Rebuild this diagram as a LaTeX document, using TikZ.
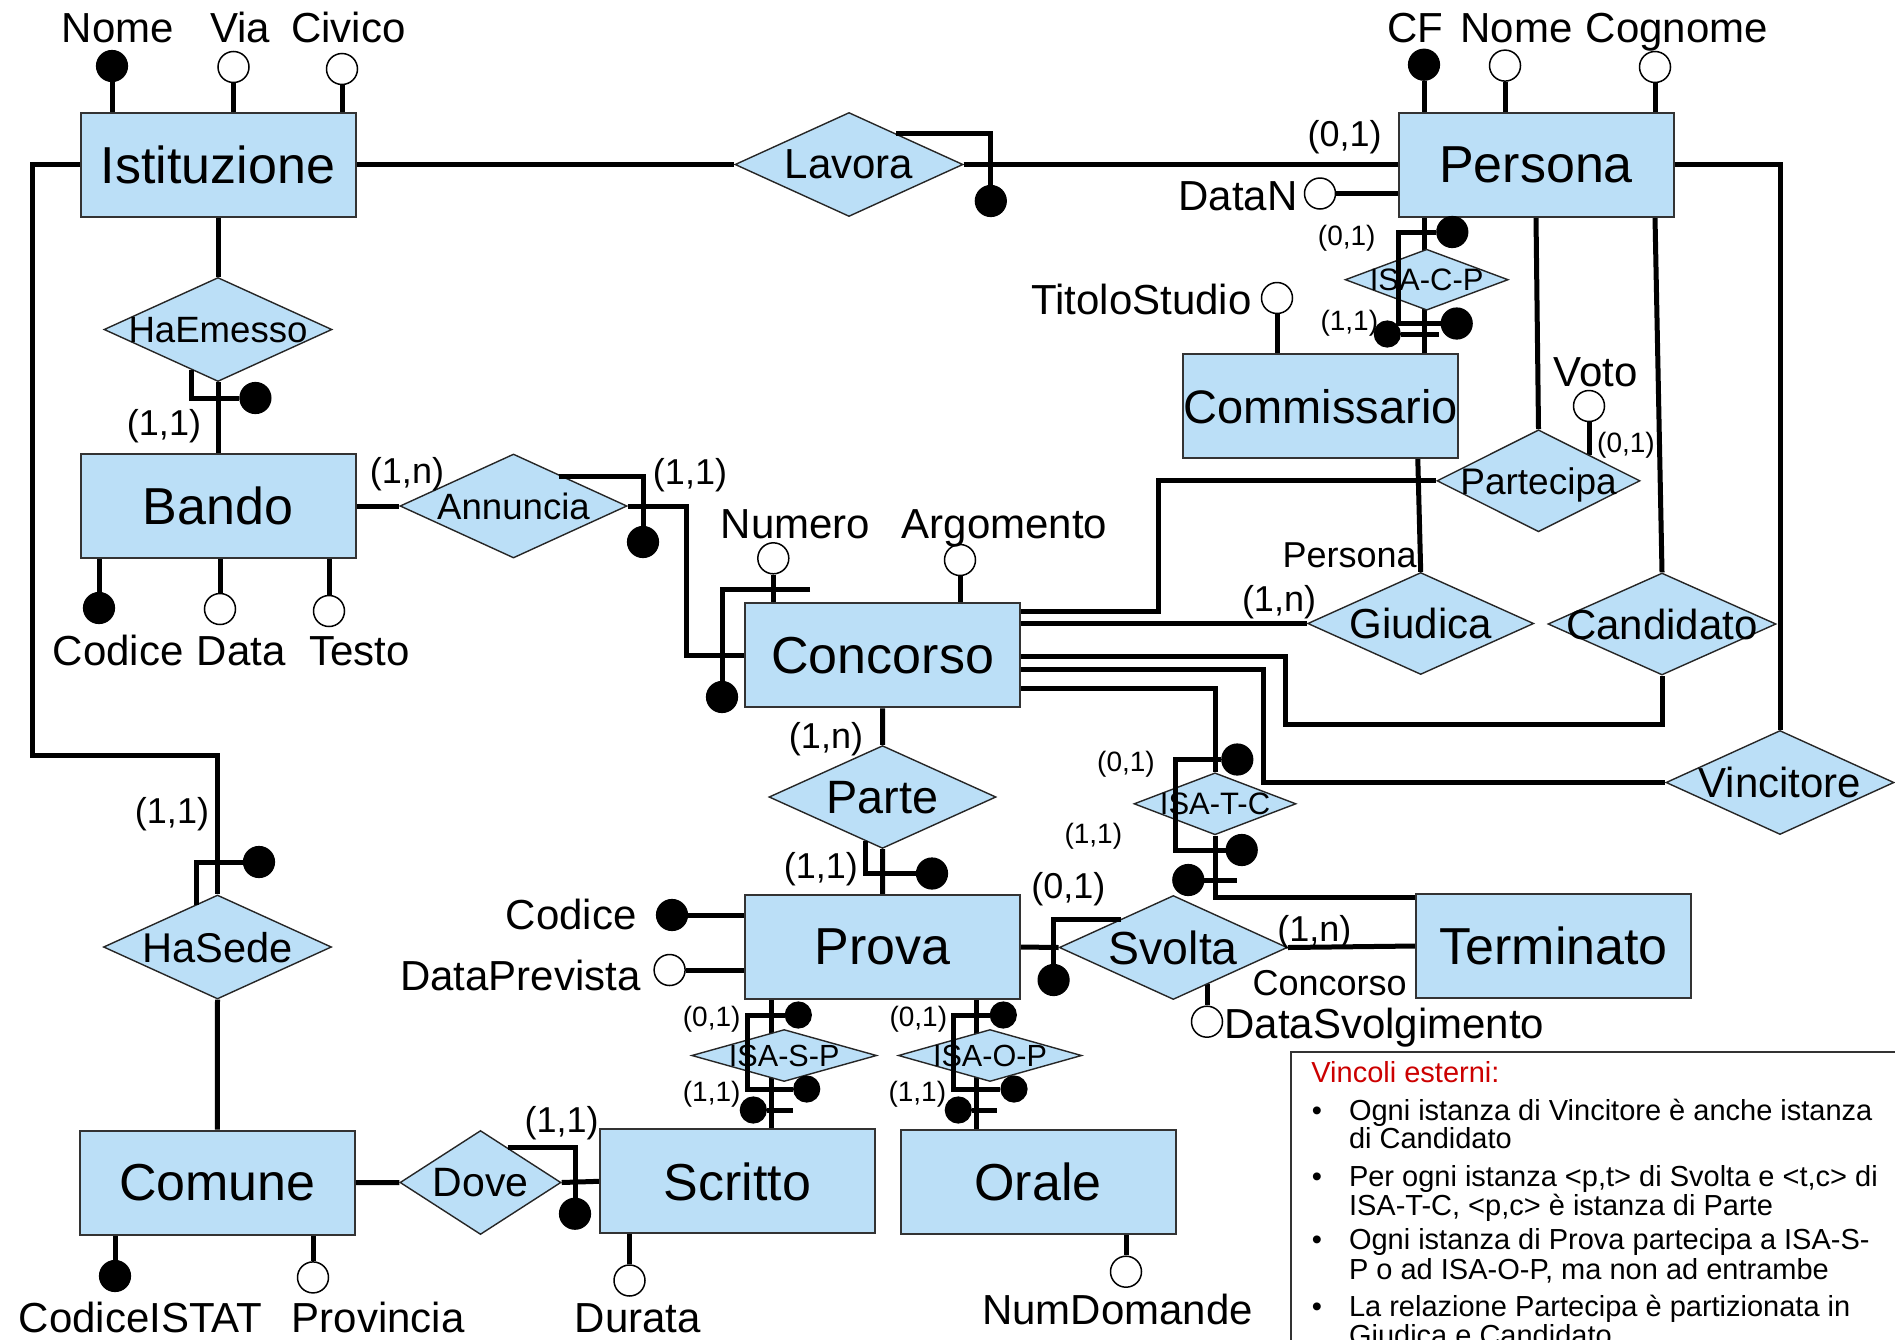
\documentclass[tikz,border=0pt]{standalone}
\usepackage{fontspec}
\setmainfont{Liberation Sans}
\usetikzlibrary{shapes.geometric}
\pgfdeclarelayer{back}
\pgfdeclarelayer{bg}
\pgfsetlayers{back,bg,main}
\definecolor{erfill}{RGB}{187,223,247}
\definecolor{vred}{RGB}{204,0,0}
\newcommand\myfs[1]{\fontsize{#1}{#1}\selectfont}
\begin{document}
\begin{tikzpicture}[x=0.5pt,y=-0.5pt,
  ent/.style={rectangle, draw=black!80, line width=1pt, fill=erfill, inner sep=0pt, minimum width=137.5pt, minimum height=52pt, font=\myfs{26}, text depth=0pt},
  rel/.style={diamond, draw=black!85, line width=0.7pt, fill=erfill, inner sep=0pt, text depth=0pt},
  conn/.style={line width=2.5pt},
  kf/.style={circle, fill=black, draw=black, line width=0.6pt, minimum size=15.5pt, inner sep=0pt},
  ko/.style={circle, fill=white, draw=black, line width=0.75pt, minimum size=15.5pt, inner sep=0pt},
  ksm/.style={minimum size=13pt},
  lab/.style={font=\myfs{21}, inner sep=0pt, anchor=base},
  card/.style={font=\myfs{18}, inner sep=0pt, anchor=base},
  cards/.style={font=\myfs{14}, inner sep=0pt, anchor=base},
  vinc/.style={font=\myfs{14.5}, inner sep=0pt, anchor=base west},
  bul/.style={font=\myfs{14.5}, inner sep=0pt, anchor=base}
]
\begin{pgfonlayer}{back}
\fill[white] (0,0) rectangle (1895,1339);
\end{pgfonlayer}
\useasboundingbox (0,0) rectangle (1895,1339);

% ---------------- entities
\node[ent] (Istituzione) at (218,164.5) {Istituzione};
\node[ent] (Bando) at (218,506) {Bando};
\node[ent] (Persona) at (1536,164.5) {Persona};
\node[ent, font=\myfs{23.5}] (Commissario) at (1320.5,406) {\makebox[0pt]{Commissario}};
\node[ent] (Concorso) at (882.7,655.3) {Concorso};
\node[ent] (Prova) at (882.6,947) {Prova};
\node[ent] (Terminato) at (1553.7,946) {Terminato};
\node[ent] (Comune) at (217.3,1182.6) {Comune};
\node[ent] (Scritto) at (737.5,1181.3) {Scritto};
\node[ent] (Orale) at (1038,1181.5) {Orale};

% ---------------- relationships
\node[rel, minimum width=114pt, minimum height=52pt, font=\myfs{21}] (Lavora) at (849,164.5) {\makebox[0pt]{Lavora}};
\node[rel, minimum width=114pt, minimum height=52pt, font=\myfs{18.3}] (HaEmesso) at (218,329.5) {\makebox[0pt]{HaEmesso}};
\node[rel, minimum width=113.5pt, minimum height=52pt, font=\myfs{18.3}] (Annuncia) at (513.5,506) {\makebox[0pt]{Annuncia}};
\node[rel, minimum width=114pt, minimum height=52pt, font=\myfs{20.8}] (HaSede) at (217.5,947) {\makebox[0pt]{HaSede}};
\node[rel, minimum width=80.5pt, minimum height=52pt, font=\myfs{20.5}] (Dove) at (480.5,1182.5) {\makebox[0pt]{Dove}};
\node[rel, minimum width=113.5pt, minimum height=51.4pt, font=\myfs{23.4}] (Parte) at (882.5,797) {\makebox[0pt]{Parte}};
\node[rel, minimum width=114pt, minimum height=52pt, font=\myfs{23.2}] (Svolta) at (1173.3,947.5) {\makebox[0pt]{Svolta}};
\node[rel, minimum width=81.5pt, minimum height=30.5pt, font=\myfs{15.5}] (ISACP) at (1426.7,279.7) {\makebox[0pt]{ISA-C-P}};
\node[rel, minimum width=101.5pt, minimum height=51pt, font=\myfs{18.5}] (Partecipa) at (1538.5,480.8) {\makebox[0pt]{Partecipa}};
\node[rel, minimum width=113pt, minimum height=51pt, font=\myfs{21}] (Giudica) at (1420.7,623.5) {\makebox[0pt]{Giudica}};
\node[rel, minimum width=114pt, minimum height=51pt, font=\myfs{21}] (Candidato) at (1662,624) {\makebox[0pt]{Candidato}};
\node[rel, minimum width=81pt, minimum height=31pt, font=\myfs{15.5}] (ISATC) at (1215,803.8) {\makebox[0pt]{ISA-T-C}};
\node[rel, minimum width=114pt, minimum height=52pt, font=\myfs{21}] (Vincitore) at (1780,782.5) {\makebox[0pt]{Vincitore}};
\node[rel, minimum width=92.5pt, minimum height=26pt, font=\myfs{15.3}] (ISASP) at (784.2,1055.5) {\makebox[0pt]{ISA-S-P}};
\node[rel, minimum width=91.7pt, minimum height=26pt, font=\myfs{15.3}] (ISAOP) at (990,1055.5) {\makebox[0pt]{ISA-O-P}};

% ---------------- attribute circles
\node[kf] (aIN) at (112,66) {};
\node[ko] (aIV) at (233.5,67) {};
\node[ko] (aIC) at (342,69) {};
\node[kf] (aPC) at (1424,64.7) {};
\node[ko] (aPN) at (1505,65.6) {};
\node[ko] (aPG) at (1655,67) {};
\node[ko] (aDN) at (1320,193.5) {};
\node[ko] (aTS) at (1277,298) {};
\node[ko] (aVO) at (1589,406) {};
\coordinate (aVOe) at (1589,455);
\node[kf] (aBC) at (99,608) {};
\node[ko] (aBD) at (220,609) {};
\node[ko] (aBT) at (329,611) {};
\node[ko] (aNU) at (773.3,558.3) {};
\node[ko] (aAR) at (960,560) {};
\node[kf] (aPRc) at (672,915) {};
\node[ko] (aPRd) at (669.6,970) {};
\node[ko] (aDS) at (1207,1021.7) {};
\coordinate (aDSe) at (1207,984);
\node[kf] (aCI) at (115,1276) {};
\node[ko] (aCP) at (313,1277.4) {};
\node[ko] (aSD) at (629.5,1280.5) {};
\node[ko] (aON) at (1126,1271.7) {};

% ---------------- connectors (behind shapes)
\begin{pgfonlayer}{bg}
\draw[conn] (Istituzione.east) -- (Lavora.west);
\draw[conn] (Istituzione.south) -- (HaEmesso.north);
\draw[conn] (HaEmesso.south) -- (Bando.north);
\draw[conn] (Bando.east) -- (Annuncia.west);
\coordinate (cAN) at (686,506);
\draw[conn] (Annuncia.east) -- (cAN) |- (Concorso.west);
\coordinate (cIS) at (32,755.4);
\draw[conn] (Istituzione.west) -| (cIS) -| (HaSede.north);
\draw[conn] (HaSede.south) -- (Comune.north);
\draw[conn] (Comune.east) -- (Dove.west);
\draw[conn] (Dove.east) -- (Scritto.west);
\draw[conn] (Concorso.south) -- (Parte.north);
\draw[conn] (Parte.south) -- (Prova.north);
\draw[conn] (Prova.east) -- (Svolta.west);
\draw[conn] (Svolta.east) -- (Terminato.west);
\draw[conn] (Persona.east) -| (Vincitore.north);
\draw[conn] (Persona.south -| 1424,0) -- (Commissario.north -| 1424,0);
\draw[conn] (Persona.south) -- (Partecipa.north);
\draw[conn] (Persona.south -| 1655,0) -- (Candidato.north);
\draw[conn] (Commissario.south -| 1417.8,0) -- (Giudica.north);
\coordinate (cC1) at (1158.3,611.7);
\draw[conn] (Concorso.east |- cC1) -- (cC1) |- (Partecipa.west);
\draw[conn] (Concorso.east |- Giudica.west) -- (Giudica.west);
\coordinate (cC3) at (1285,656);
\coordinate (cC3b) at (1285,724);
\draw[conn] (Concorso.east |- cC3) -- (cC3) -- (cC3b) -| (Candidato.south);
\coordinate (cC4) at (1263.3,669.3);
\draw[conn] (Concorso.east |- cC4) -- (cC4) |- (Vincitore.west);
\coordinate (cC5) at (1215,688.3);
\draw[conn] (Concorso.east |- cC5) -- (cC5) -- (ISATC.north);
\coordinate (cC6) at (1215,897.3);
\draw[conn] (ISATC.south) -- (cC6) -- (cC6 -| Terminato.west);
\draw[conn] (Prova.south -| 771.7,0) -- (Scritto.north -| 771.7,0);
\draw[conn] (Prova.south -| 976.7,0) -- (Orale.north -| 976.7,0);
% attribute stems
\draw[conn] (aIN) -- (aIN |- Istituzione.north);
\draw[conn] (aIV) -- (aIV |- Istituzione.north);
\draw[conn] (aIC) -- (aIC |- Istituzione.north);
\draw[conn] (aPC) -- (aPC |- Persona.north);
\draw[conn] (aPN) -- (aPN |- Persona.north);
\draw[conn] (aPG) -- (aPG |- Persona.north);
\draw[conn] (aDN) -- (aDN -| Persona.west);
\draw[conn] (aTS) -- (aTS |- Commissario.north);
\draw[conn] (aVO) -- (aVOe);
\draw[conn] (aBC) -- (aBC |- Bando.south);
\draw[conn] (aBD) -- (aBD |- Bando.south);
\draw[conn] (aBT) -- (aBT |- Bando.south);
\draw[conn] (aNU) -- (aNU |- Concorso.north);
\draw[conn] (aAR) -- (aAR |- Concorso.north);
\draw[conn] (aPRc) -- (aPRc -| Prova.west);
\draw[conn] (aPRd) -- (aPRd -| Prova.west);
\draw[conn] (aDS) -- (aDSe);
\draw[conn] (aCI) -- (aCI |- Comune.south);
\draw[conn] (aCP) -- (aCP |- Comune.south);
\draw[conn] (aSD) -- (aSD |- Scritto.south);
\draw[conn] (aON) -- (aON |- Orale.south);
\end{pgfonlayer}
% Lavora -> Persona (main layer)
\draw[line width=2.6pt] (Lavora.east) -- (Persona.west);

% ---------------- identifier brackets (on top)
\node[kf] (kHE) at (255.4,398) {};
\coordinate (kHEs) at (191,369.5);
\draw[conn] (kHEs) |- (kHE.west);
\node[kf] (kLA) at (990.8,201) {};
\coordinate (kLAs) at (896,133);
\draw[conn] (kLAs) -| (kLA.north);
\node[kf] (kAN) at (643,542) {};
\coordinate (kANs) at (559,476);
\draw[conn] (kANs) -| (kAN.north);
\node[kf] (kNU) at (722,697) {};
\coordinate (kNUe) at (810,589);
\draw[conn] (kNUe) -| (kNU.north);
\node[kf] (kPA) at (932,873.5) {};
\coordinate (kPAs) at (865.6,840.7);
\draw[conn] (kPAs) |- (kPA.west);
\node[kf] (kSV) at (1053.6,980) {};
\coordinate (kSVs) at (1121.4,919.3);
\draw[conn] (kSVs) -| (kSV.north);
\node[kf] (kDO) at (575,1213.7) {};
\coordinate (kDOs) at (507.7,1147.8);
\draw[conn] (kDOs) -| (kDO.north);
\node[kf] (kHS) at (259,862) {};
\coordinate (kHSs) at (196,904.8);
\draw[conn] (kHSs) |- (kHS.west);
% ISA-C-P
\node[kf] (kCP1) at (1452.3,232) {};
\node[kf] (kCP2) at (1456.7,323.5) {};
\coordinate (kCPm) at (1398.3,280);
\draw[conn] (kCP1.west) -| (kCPm) |- (kCP2.west);
\node[kf,ksm] (kCP3) at (1387.3,334) {};
\coordinate (kCP3e) at (1439.3,334);
\draw[conn] (kCP3.east) -- (kCP3e);
% ISA-T-C
\node[kf] (kTC1) at (1237.3,759.5) {};
\node[kf] (kTC2) at (1241.7,850) {};
\coordinate (kTCm) at (1175,803);
\draw[conn] (kTC1.west) -| (kTCm) |- (kTC2.west);
\node[kf] (kTC3) at (1188.3,880) {};
\coordinate (kTC3e) at (1237.3,880);
\draw[conn] (kTC3.east) -- (kTC3e);
% ISA-S-P
\node[kf,ksm] (kSP1) at (798.3,1015) {};
\node[kf,ksm] (kSP2) at (806.7,1089) {};
\coordinate (kSPm) at (747.3,1050);
\draw[conn] (kSP1.west) -| (kSPm) |- (kSP2.west);
\node[kf,ksm] (kSP3) at (753.3,1110) {};
\coordinate (kSP3e) at (793.3,1110);
\draw[conn] (kSP3.east) -- (kSP3e);
% ISA-O-P
\node[kf,ksm] (kOP1) at (1003.3,1015) {};
\node[kf,ksm] (kOP2) at (1014,1089) {};
\coordinate (kOPm) at (953.3,1050);
\draw[conn] (kOP1.west) -| (kOPm) |- (kOP2.west);
\node[kf,ksm] (kOP3) at (958.3,1110) {};
\coordinate (kOP3e) at (997.3,1110);
\draw[conn] (kOP3.east) -- (kOP3e);

% ---------------- attribute labels
\node[lab] (lIN) at (118,42) {Nome};
\node[lab] (lIV) at (240,42) {Via};
\node[lab] (lIC) at (348.5,42) {Civico};
\node[lab] (lPC) at (1415.5,42) {CF};
\node[lab] (lPN) at (1516.6,42) {Nome};
\node[lab] (lPG) at (1677,42) {Cognome};
\node[lab, anchor=base east] (lDN) at (1298,210) {DataN};
\node[lab, anchor=base east] (lTS) at (1252,314) {TitoloStudio};
\node[lab] (lVO) at (1595.5,386) {Voto};
\node[lab] (lBC) at (118.3,665) {Codice};
\node[lab] (lBD) at (241.3,665) {Data};
\node[lab] (lBT) at (359.3,665) {Testo};
\node[lab] (lNU) at (795.4,538) {Numero};
\node[lab] (lAR) at (1004.4,538) {Argomento};
\node[lab, anchor=base east] (lPRc) at (637,929) {Codice};
\node[lab, anchor=base east] (lPRd) at (641,990) {DataPrevista};
\node[lab, anchor=base west] (lDS) at (1224,1038) {DataSvolgimento};
\node[lab] (lCI) at (140.6,1332) {CodiceISTAT};
\node[lab] (lCP) at (378.3,1332) {Provincia};
\node[lab] (lSD) at (638,1332) {Durata};
\node[lab] (lON) at (1117.5,1324) {NumDomande};
% role labels
\node[card, anchor=base east] (rP) at (1417,567) {Persona};
\node[card, anchor=base east] (rC) at (1407,995) {Concorso};

% ---------------- cardinalities
\node[card] (c1) at (164,435) {(1,1)};
\node[card] (c2) at (407,483) {(1,n)};
\node[card] (c3) at (690,484) {(1,1)};
\node[card] (c4) at (1344.6,146) {(0,1)};
\node[cards] (c5) at (1346.7,245) {(0,1)};
\node[cards] (c6) at (1349.3,330) {(1,1)};
\node[cards] (c7) at (1626,452) {(0,1)};
\node[card] (c8) at (1279,611) {(1,n)};
\node[card] (c9) at (826,748) {(1,n)};
\node[card] (c10) at (820.8,878) {(1,1)};
\node[card] (c11) at (172,823) {(1,1)};
\node[cards] (c12) at (1126,771.7) {(0,1)};
\node[cards] (c13) at (1093.3,843) {(1,1)};
\node[card] (c14) at (1068.3,898.5) {(0,1)};
\node[card] (c15) at (1314.3,941) {(1,n)};
\node[cards] (c16) at (711.7,1026) {(0,1)};
\node[cards] (c17) at (711.7,1101) {(1,1)};
\node[cards] (c18) at (918.3,1026) {(0,1)};
\node[cards] (c19) at (917.3,1101) {(1,1)};
\node[card] (c20) at (561.6,1132) {(1,1)};

% ---------------- external constraints box
\draw[line width=1pt, draw=black!80] (1291,1051.7) rectangle (1930,1370);
\node[vinc, text=vred] (v0) at (1311,1082.7) {Vincoli esterni:};
\node[bul] (b1) at (1317,1120) {•};
\node[bul] (b2) at (1317,1186) {•};
\node[bul] (b3) at (1317,1249) {•};
\node[bul] (b4) at (1317,1316.5) {•};
\node[vinc] (v1) at (1348.6,1120) {Ogni istanza di Vincitore è anche istanza};
\node[vinc] (v2) at (1348.6,1148) {di Candidato};
\node[vinc] (v3) at (1348.6,1186) {Per ogni istanza <p,t> di Svolta e <t,c> di};
\node[vinc] (v4) at (1348.6,1215) {ISA-T-C, <p,c> è istanza di Parte};
\node[vinc] (v5) at (1348.6,1249) {Ogni istanza di Prova partecipa a ISA-S-};
\node[vinc] (v6) at (1348.6,1279) {P o ad ISA-O-P, ma non ad entrambe};
\node[vinc] (v7) at (1348.6,1316.5) {La relazione Partecipa è partizionata in};
\node[vinc] (v8) at (1348.6,1345) {Giudica e Candidato};
\end{tikzpicture}
\end{document}
